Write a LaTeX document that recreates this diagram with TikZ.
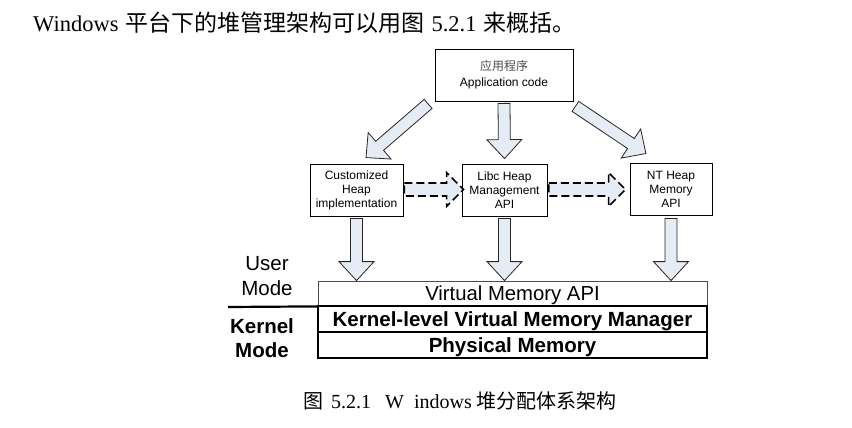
\documentclass[tikz,border=0pt]{standalone}
\usepackage{fontspec}
\setmainfont{Liberation Serif}
\setsansfont{Liberation Sans}
\newfontfamily\cjkfont{Noto Sans CJK SC}
\usetikzlibrary{calc}
\definecolor{arrfill}{RGB}{230,236,246}
\tikzset{
  box/.style={draw, line width=0.8pt, inner sep=0pt, align=center,
    font=\sffamily\fontsize{12}{14}\selectfont},
  layer/.style={draw, inner sep=0pt, minimum width=389pt, text depth=0pt},
  modelbl/.style={inner sep=0pt, anchor=base, font=\sffamily\fontsize{20.5}{25}\selectfont},
  solidarr/.style={fill=arrfill, draw=black!85, line width=0.8pt, line join=miter},
  dasharr/.style={fill=arrfill, draw=black, line width=1.6pt, dash pattern=on 8pt off 4pt},
}
\newcommand\fatarr[6][]{%
  \path let \p1=(#2), \p2=(#3), \n1={atan2(\y2-\y1,\x2-\x1)}, \n2={veclen(\x2-\x1,\y2-\y1)} in
    \pgfextra{\xdef\faAng{\n1}\xdef\faLen{\n2}\xdef\faX{\x1}\xdef\faY{\y1}};
  \begin{scope}[shift={(\faX,\faY)}, rotate=\faAng]
    \path[#1] (0,-#4) -- (\faLen-#6,-#4) -- (\faLen-#6,-#5) -- (\faLen,0)
      -- (\faLen-#6,#5) -- (\faLen-#6,#4) -- (0,#4) -- cycle;
  \end{scope}}
\begin{document}
\begin{tikzpicture}[x=1pt, y=-1pt]
\useasboundingbox (0,0) rectangle (852,428);

% intro text
\node[anchor=base west, inner sep=0pt, font=\fontsize{22.5}{27}\selectfont] (intro) at (33,32)
  {Windows\hspace{7pt}{\cjkfont\fontsize{23}{27}\selectfont 平台下的堆管理架构可以用图}\hspace{7pt}5.2.1\hspace{7pt}{\cjkfont\fontsize{23}{27}\selectfont 来概括。}};

% boxes
\node[box, minimum width=138pt, minimum height=52pt, font=\sffamily\fontsize{12}{16}\selectfont] (app) at (504,75)
  {{\cjkfont\color{black!70}应用程序}\\Application code};
\node[box, minimum width=93pt, minimum height=52pt] (cust) at (356.5,190) {Customized\\Heap\\implementation};
\node[box, minimum width=85pt, minimum height=52pt] (libc) at (504.5,190) {Libc Heap\\Management\\API};
\node[box, minimum width=82pt, minimum height=52pt] (nt) at (671,189) {NT Heap\\Memory\\API};

% layers
\node[layer, draw=black!70, line width=0.8pt, minimum height=25pt, text height=14.5pt,
  font=\sffamily\fontsize{20.3}{24}\selectfont] (vm) at (512.5,293.5) {Virtual Memory API};
\node[layer, line width=2pt, minimum height=26pt, text height=14.7pt,
  font=\sffamily\bfseries\fontsize{20.5}{24}\selectfont] (kern) at (512.5,319) {Kernel-level Virtual Memory Manager};
\node[layer, line width=2pt, minimum height=26pt, text height=14.7pt,
  font=\sffamily\bfseries\fontsize{20.5}{24}\selectfont] (phys) at (512.5,345) {Physical Memory};

% mode separator
\coordinate (ml) at (228,307);
\draw[line width=2.2pt] (ml) -- (vm.south west);

% mode labels
\node[modelbl] (u1) at (267,270) {User};
\node[modelbl] (u2) at (267,295) {Mode};
\node[modelbl, font=\sffamily\bfseries\fontsize{20.5}{25}\selectfont] (k1) at (262,333) {Kernel};
\node[modelbl, font=\sffamily\bfseries\fontsize{20.5}{25}\selectfont] (k2) at (262,357) {Mode};

% arrows from application code
\fatarr[solidarr]{$(app.south)+(0,2)$}{$(libc.north)+(0,-5)$}{6}{17.5}{19}
\fatarr[solidarr]{$(app.south west)+(-6.5,2.5)$}{$(cust.north)+(9.5,-6)$}{6}{17.5}{18}
\fatarr[solidarr]{$(app.south east)+(2,5)$}{$(nt.north)+(-25,-9)$}{6}{17.5}{18}

% dashed arrows
\fatarr[dasharr]{$(cust.east)+(1,-0.5)$}{$(libc.west)+(2,-0.5)$}{6.5}{17}{17}
\fatarr[dasharr]{$(libc.east)+(1.5,-0.5)$}{$(nt.west)+(-4,0.5)$}{6.5}{17}{17}

% arrows down to virtual memory API
\fatarr[solidarr]{$(cust.south)+(0,2)$}{cust.south |- vm.north}{6}{17.5}{19}
\fatarr[solidarr]{$(libc.south)+(0,2)$}{libc.south |- vm.north}{6}{17.5}{19}
\fatarr[solidarr]{$(nt.south)+(0,3)$}{nt.south |- vm.north}{6}{17.5}{19}

% caption
\node[anchor=base west, inner sep=0pt, font=\fontsize{20}{24}\selectfont] (cap) at (303,408)
  {{\cjkfont 图}\hspace{8pt}5.2.1\hspace{14pt}W\hspace{10pt}indows\hspace{5pt}{\cjkfont 堆分配体系架构}};
\end{tikzpicture}
\end{document}
